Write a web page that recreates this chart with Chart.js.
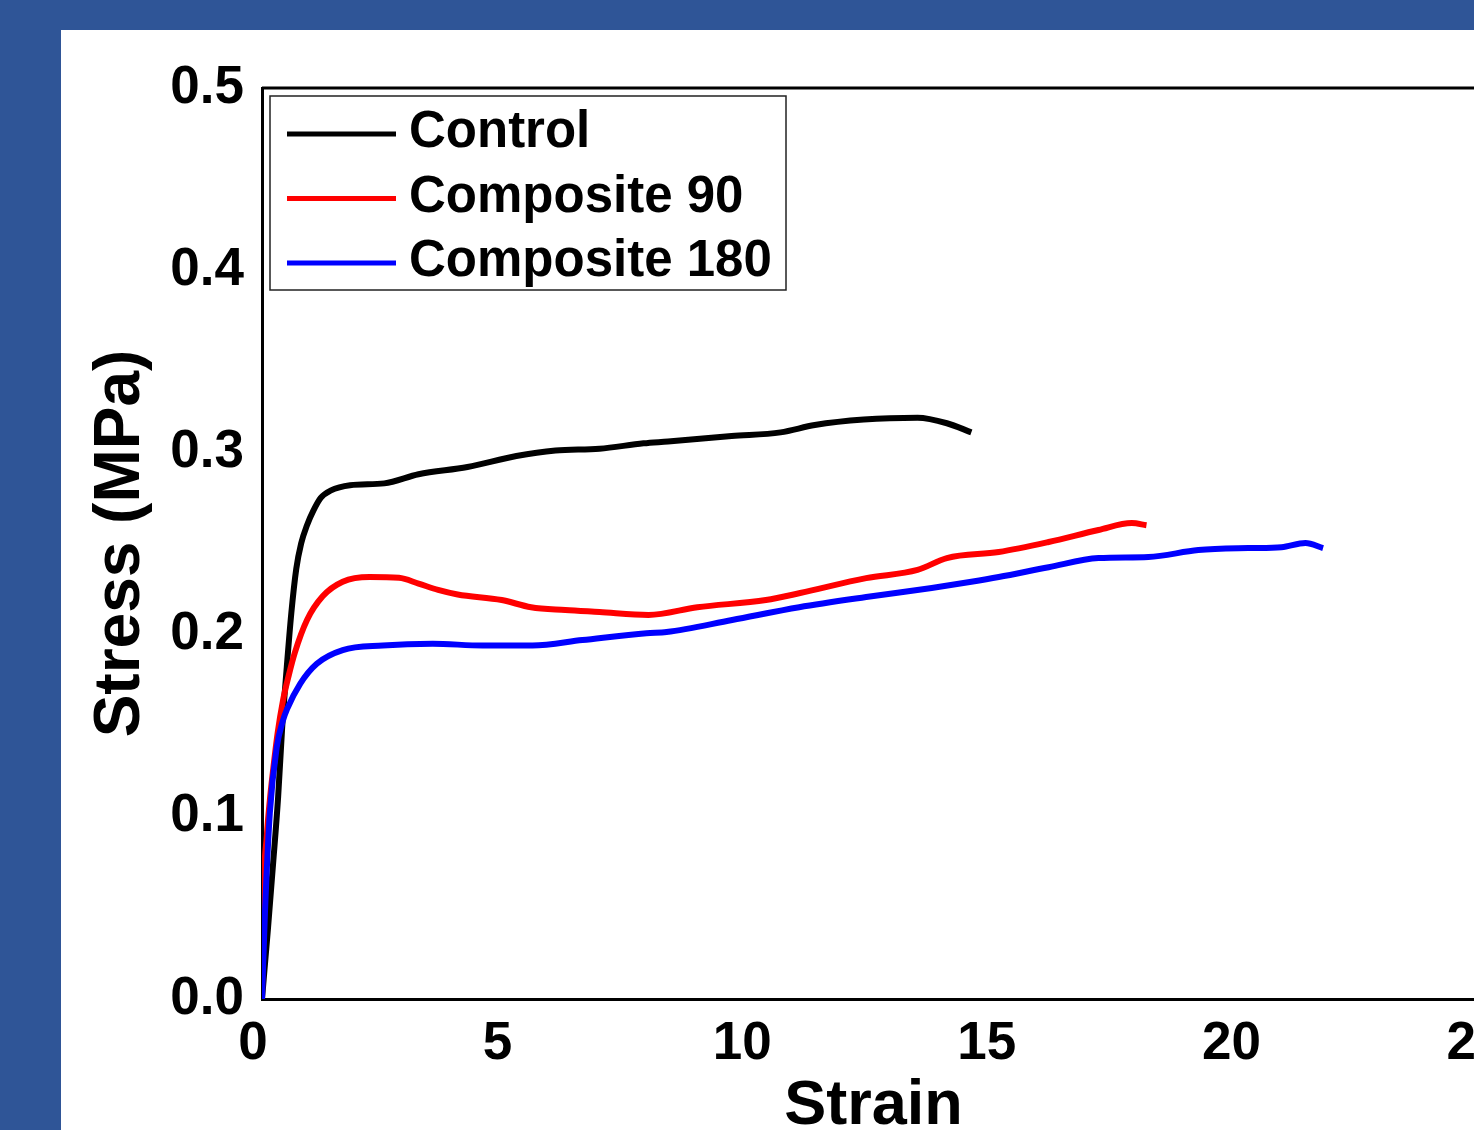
<!DOCTYPE html>
<html lang="en">
<head>
    <meta charset="UTF-8">
    <title>Stress vs Strain</title>
    <script src="https://cdn.jsdelivr.net/npm/chart.js"></script>
    <style>
        html, body {
            margin: 0;
            padding: 0;
            width: 1474px;
            height: 1130px;
            overflow: hidden;
            background: #2f5597;
        }
        .panel {
            position: absolute;
            left: 61px;
            top: 30px;
            width: 1480px;
            height: 1114px;
            background: #fff;
        }
        canvas { display: block; }
    </style>
</head>
<body>
    <div class="panel">
        <canvas id="stressChart" width="1470" height="1114"></canvas>
    </div>
    <script>
        // values
        const seriesNames = ['Control', 'Composite 90', 'Composite 180'];
        const seriesColors = ['#000000', '#ff0000', '#0000ff'];

        const controlStrain = [0, 0.12, 0.22, 0.33, 0.41, 0.5, 0.6, 0.7, 0.8, 0.92, 1.05, 1.2, 1.4, 1.8, 2.5, 3.2, 4.2, 5.2, 6.0, 6.9, 7.8, 8.3, 9.6, 10.6, 11.3, 12.3, 13.4, 14.0, 14.5];
        const controlStress = [0, 0.038, 0.072, 0.111, 0.148, 0.18, 0.212, 0.236, 0.25, 0.26, 0.268, 0.275, 0.279, 0.282, 0.283, 0.288, 0.292, 0.298, 0.301, 0.302, 0.305, 0.306, 0.309, 0.311, 0.315, 0.318, 0.319, 0.316, 0.311];

        const comp90Strain = [0, 0.02, 0.1, 0.16, 0.22, 0.32, 0.43, 0.55, 0.67, 0.92, 1.24, 1.65, 2.2, 2.8, 3.2, 3.6, 4.0, 4.9, 5.5, 6.2, 6.9, 7.9, 8.9, 10.3, 11.0, 12.35, 13.4, 14.0, 15.06, 16.08, 17.1, 17.78, 18.08];
        const comp90Stress = [0, 0.047, 0.09, 0.109, 0.124, 0.146, 0.164, 0.178, 0.19, 0.208, 0.221, 0.229, 0.2316, 0.2312, 0.228, 0.2245, 0.222, 0.219, 0.215, 0.2135, 0.2124, 0.2108, 0.215, 0.219, 0.2228, 0.231, 0.2355, 0.242, 0.2453, 0.2508, 0.2574, 0.2612, 0.26];

        const comp180Strain = [0, 0.06, 0.16, 0.3, 0.43, 0.51, 0.78, 1.12, 1.65, 2.47, 3.49, 4.51, 5.53, 6.55, 7.86, 8.27, 9.61, 10.98, 12.35, 13.69, 14.5, 15.06, 16.08, 17.1, 18.12, 19.14, 20.16, 20.84, 21.33, 21.69];
        const comp180Stress = [0, 0.047, 0.102, 0.138, 0.153, 0.159, 0.173, 0.184, 0.1915, 0.194, 0.195, 0.194, 0.194, 0.197, 0.2008, 0.2014, 0.208, 0.215, 0.2206, 0.2256, 0.229, 0.2316, 0.237, 0.242, 0.2426, 0.2464, 0.2475, 0.248, 0.2503, 0.2475];

        function toPoints(xs, ys) {
            return xs.map((x, i) => ({ x: x, y: ys[i] }));
        }

        const FONT = 'Arial, "Liberation Sans", sans-serif';

        // frame along the top of the plot + boxed legend in the upper left
        const framePlugin = {
            id: 'frameAndLegend',
            afterDatasetsDraw(chart) {
                const ctx = chart.ctx;
                const a = chart.chartArea;
                ctx.save();
                ctx.strokeStyle = '#000';
                ctx.lineWidth = 3;
                ctx.beginPath();
                ctx.moveTo(a.left, a.top);
                ctx.lineTo(a.right, a.top);
                ctx.lineTo(a.right, a.bottom);
                ctx.stroke();

                // legend box
                const bx = a.left + 8, by = a.top + 8, bw = 516, bh = 194;
                ctx.fillStyle = '#fff';
                ctx.fillRect(bx, by, bw, bh);
                ctx.strokeStyle = '#222';
                ctx.lineWidth = 1.5;
                ctx.strokeRect(bx, by, bw, bh);

                ctx.font = 'bold 51px ' + FONT;
                ctx.textAlign = 'left';
                ctx.textBaseline = 'middle';
                chart.data.datasets.forEach((ds, i) => {
                    const y = by + 37 + i * 64.5;
                    ctx.strokeStyle = ds.borderColor;
                    ctx.lineWidth = 5;
                    ctx.beginPath();
                    ctx.moveTo(bx + 17, y + 1);
                    ctx.lineTo(bx + 126, y + 1);
                    ctx.stroke();
                    ctx.fillStyle = '#000';
                    ctx.fillText(ds.label, bx + 139, y);
                });
                ctx.restore();
            }
        };

        const datasets = [
            { label: seriesNames[0], data: toPoints(controlStrain, controlStress), borderColor: seriesColors[0], order: 2 },
            { label: seriesNames[1], data: toPoints(comp90Strain, comp90Stress), borderColor: seriesColors[1], order: 1 },
            { label: seriesNames[2], data: toPoints(comp180Strain, comp180Stress), borderColor: seriesColors[2], order: 0 }
        ].map(d => Object.assign(d, {
            borderWidth: 6,
            pointRadius: 0,
            fill: false,
            cubicInterpolationMode: 'monotone'
        }));

        new Chart(document.getElementById('stressChart').getContext('2d'), {
            type: 'line',
            data: { datasets: datasets },
            plugins: [framePlugin],
            options: {
                responsive: false,
                animation: false,
                layout: { padding: { left: 0, top: 58, right: 46, bottom: 0 } },
                plugins: {
                    legend: { display: false },
                    tooltip: { enabled: false }
                },
                scales: {
                    x: {
                        type: 'linear',
                        min: 0,
                        max: 25,
                        afterFit: (scale) => { scale.height = 145; },
                        grid: { display: false, drawTicks: false },
                        border: { display: true, color: '#000', width: 3 },
                        ticks: {
                            stepSize: 5,
                            padding: 14,
                            labelOffset: -9,
                            maxRotation: 0,
                            color: '#000',
                            font: { family: FONT, size: 53, weight: 'bold' }
                        },
                        title: {
                            display: true,
                            text: 'Strain',
                            color: '#000',
                            padding: { top: 0, bottom: 0 },
                            font: { family: FONT, size: 63, weight: 'bold' }
                        }
                    },
                    y: {
                        min: 0,
                        max: 0.5,
                        afterFit: (scale) => { scale.width = 201; },
                        grid: { display: false, drawTicks: false },
                        border: { display: true, color: '#000', width: 3 },
                        ticks: {
                            stepSize: 0.1,
                            padding: 18,
                            color: '#000',
                            font: { family: FONT, size: 53, weight: 'bold' },
                            callback: (v) => v.toFixed(1)
                        },
                        title: {
                            display: true,
                            text: 'Stress (MPa)',
                            color: '#000',
                            padding: { top: 22, bottom: 0 },
                            font: { family: FONT, size: 64, weight: 'bold' }
                        }
                    }
                }
            }
        });
    </script>
</body>
</html>
